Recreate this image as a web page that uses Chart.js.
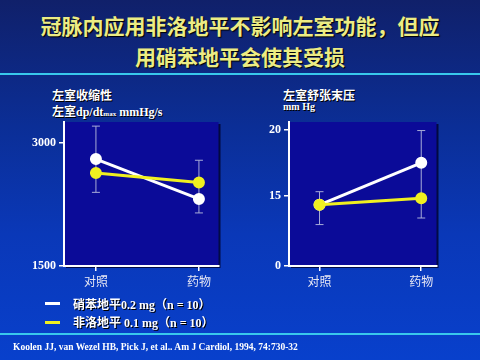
<!DOCTYPE html>
<html>
<head>
<meta charset="utf-8">
<script src="https://cdn.jsdelivr.net/npm/chart.js@4"></script>
<style>
  html, body { margin: 0; padding: 0; }
  body {
    width: 480px; height: 360px; overflow: hidden; position: relative;
    background: linear-gradient(to bottom, #10206a 0%, #0b2e96 35%, #0a38b8 65%, #0840cc 100%);
    font-family: "Liberation Serif", "Noto Sans CJK SC", serif;
    color: #ffffff;
  }
  .abs { position: absolute; white-space: nowrap; }
  #title {
    left: 0; width: 480px; top: 10px; text-align: center;
    font-family: "Noto Sans CJK SC", sans-serif; font-weight: bold;
    font-size: 21px; line-height: 31px; color: #ecec84;
    text-shadow: 1px 1px 1px #000;
  }
  .rule { position: absolute; left: 0; width: 480px; height: 2px; background: #39c8ec; }
  .lbl { font-weight: bold; font-size: 12px; text-shadow: 1px 1px 0 #000; }
  .sub { font-size: 7px; }
  canvas { position: absolute; }
  .key { position: absolute; width: 15px; height: 3px; }
</style>
</head>
<body>
<div id="title" class="abs">冠脉内应用非洛地平不影响左室功能，但应<br>用硝苯地平会使其受损</div>
<div class="rule" style="top:73px"></div>

<div class="abs lbl" style="left:52px; top:86px">左室收缩性</div>
<div class="abs lbl" style="left:52px; top:102px">左室dp/dt<span class="sub">max</span> mmHg/s</div>
<div class="abs lbl" style="left:283px; top:86px">左室舒张末压</div>
<div class="abs lbl" style="left:283px; top:101px; font-size:10px">mm Hg</div>

<canvas id="leftChart" width="212" height="186" style="left:14px; top:110px"></canvas>
<canvas id="rightChart" width="205" height="186" style="left:239px; top:110px"></canvas>

<div class="key" style="left:45px; top:302px; background:#ffffff"></div>
<div class="abs lbl" style="left:73px; top:295px">硝苯地平0.2 mg（n = 10）</div>
<div class="key" style="left:45px; top:321px; background:#f0f020"></div>
<div class="abs lbl" style="left:73px; top:313px">非洛地平 0.1 mg（n = 10）</div>

<div class="rule" style="top:333px"></div>
<div class="abs" style="left:13px; top:342px; font-size:9.5px; font-weight:bold">Koolen JJ, van Wezel HB, Pick J, et al.. Am J Cardiol, 1994, 74:730-32</div>

<script>
// categories
const categories = ['对照', '药物'];

// left: 左室dp/dt max (mmHg/s)
const leftNifedipine = [2800, 2315];
const leftFelodipine = [2630, 2515];
const leftErrHigh = [3200, 2785];
const leftErrLow = [2395, 2145];
const leftTicks = [1500, 3000];

// right: 左室舒张末压 (mm Hg), broken axis
const rightNifedipine = [14.3, 17.5];
const rightFelodipine = [14.3, 14.8];
const rightErrHigh = [15.3, 19.95];
const rightErrLow = [12.8, 13.3];
const rightTicks = [15, 20];
const rightBreakLabel = '0';

const labelFont = { family: '"Liberation Serif", "Noto Sans CJK SC", serif', size: 12, weight: 'bold' };

// dark plot box with a small shadow
const plotBox = {
  id: 'plotBox',
  beforeDraw(chart) {
    const a = chart.chartArea, ctx = chart.ctx;
    ctx.save();
    ctx.fillStyle = 'rgba(0,0,40,0.8)';
    ctx.fillRect(a.left + 2, a.top + 2, a.right - a.left, a.bottom - a.top);
    ctx.fillStyle = '#0b0b98';
    ctx.fillRect(a.left, a.top, a.right - a.left, a.bottom - a.top);
    ctx.restore();
  }
};

// error bars through the chart scales
const errorBars = {
  id: 'errorBars',
  beforeDatasetsDraw(chart, args, opts) {
    const ctx = chart.ctx, x = chart.scales.x, y = chart.scales.y;
    ctx.save();
    ctx.strokeStyle = '#a8acd8';
    ctx.lineWidth = 1;
    opts.high.forEach((hi, i) => {
      const px = x.getPixelForValue(i);
      const top = y.getPixelForValue(hi), bot = y.getPixelForValue(opts.low[i]);
      ctx.beginPath();
      ctx.moveTo(px, top); ctx.lineTo(px, bot);
      ctx.moveTo(px - 4, top); ctx.lineTo(px + 4, top);
      ctx.moveTo(px - 4, bot); ctx.lineTo(px + 4, bot);
      ctx.stroke();
    });
    ctx.restore();
  }
};

function makeConfig(white, yellow, errHigh, errLow, yMin, yMax, xMin, xMax, tickVals, tickLabel) {
  const pts = arr => arr.map((v, i) => ({ x: i, y: v }));
  return {
    type: 'line',
    data: {
      datasets: [
        { label: '硝苯地平0.2 mg (n = 10)', data: pts(white), borderColor: '#ffffff', backgroundColor: '#ffffff',
          borderWidth: 3, pointRadius: 4.5, order: 1 },
        { label: '非洛地平 0.1 mg (n = 10)', data: pts(yellow), borderColor: '#f0f020', backgroundColor: '#f0f020',
          borderWidth: 3, pointRadius: 4.5, order: 0 }
      ]
    },
    options: {
      responsive: false,
      animation: false,
      layout: { padding: { top: 12, right: 5, left: 0, bottom: 0 } },
      plugins: { legend: { display: false }, tooltip: { enabled: false }, errorBars: { high: errHigh, low: errLow } },
      scales: {
        x: {
          type: 'linear', min: xMin, max: xMax,
          afterBuildTicks: s => { s.ticks = categories.map((c, i) => ({ value: i })); },
          afterFit: s => { s.height = 30; },
          ticks: { color: '#e8e8f4', font: { family: '"Noto Sans CJK SC", sans-serif', size: 12 }, padding: 3,
                   callback: v => categories[v] },
          grid: { drawOnChartArea: false, color: '#ffffff', tickLength: 5, lineWidth: 1.5 },
          border: { color: '#ffffff', width: 2 }
        },
        y: {
          min: yMin, max: yMax,
          afterBuildTicks: s => { s.ticks = tickVals.map(v => ({ value: v })); },
          afterFit: s => { s.width = 50; },
          ticks: { color: '#ffffff', font: labelFont, padding: 3, callback: tickLabel },
          grid: { drawOnChartArea: false, color: '#ffffff', tickLength: 5, lineWidth: 1.5 },
          border: { color: '#ffffff', width: 2 }
        }
      }
    },
    plugins: [plotBox, errorBars]
  };
}

const leftChart = new Chart(document.getElementById('leftChart'),
  makeConfig(leftNifedipine, leftFelodipine, leftErrHigh, leftErrLow, 1500, 3250, -0.31, 1.19,
             leftTicks, v => String(v)));

const rightMin = 9.65;
const rightChart = new Chart(document.getElementById('rightChart'),
  makeConfig(rightNifedipine, rightFelodipine, rightErrHigh, rightErrLow, rightMin, 20.6, -0.3, 1.15,
             [rightMin].concat(rightTicks), v => (v === rightMin ? rightBreakLabel : String(v))));
</script>
</body>
</html>
